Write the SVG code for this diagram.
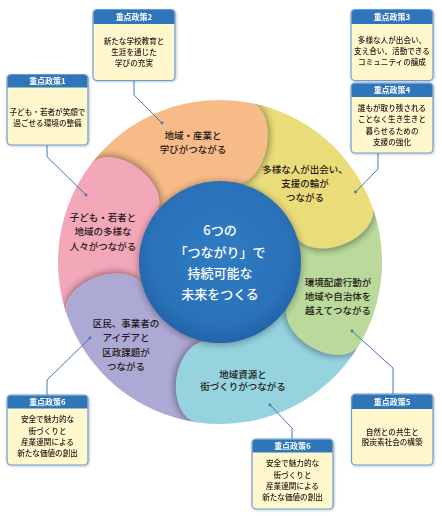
<svg xmlns="http://www.w3.org/2000/svg" width="442" height="516" viewBox="0 0 442 516">
<style>
.pt{font-family:"Noto Sans CJK JP","Noto Sans",sans-serif;font-size:9.5px;font-weight:500;fill:#231815;text-anchor:middle}
.ct{font-family:"Noto Sans CJK JP","Noto Sans",sans-serif;font-size:13px;font-weight:500;fill:#ffffff;text-anchor:middle}
.bh{font-family:"Noto Sans CJK JP","Noto Sans",sans-serif;font-size:8px;font-weight:bold;fill:#ffffff;text-anchor:middle}
.bt{font-family:"Noto Sans CJK JP","Noto Sans",sans-serif;font-size:7.6px;font-weight:500;fill:#231815;text-anchor:middle}
.body{fill:#fff8cd;stroke:#6b9bd6;stroke-width:1.2}
.head{fill:#2e74b9}
.conn{fill:none;stroke:#3e77bd;stroke-width:1}
.dot{fill:#3e77bd}
.sh{fill:#000;opacity:.38}
</style>
<defs>
<filter id="blur" x="-50%" y="-50%" width="200%" height="200%"><feGaussianBlur stdDeviation="3.5"/></filter>
<filter id="bshadow" x="-20%" y="-20%" width="140%" height="140%"><feDropShadow dx="0.8" dy="0.8" stdDeviation="0.8" flood-color="#000" flood-opacity="0.25"/></filter>
<radialGradient id="blueg" cx="50%" cy="45%" r="55%">
<stop offset="0" stop-color="#2f7cc3"/>
<stop offset="0.8" stop-color="#2a71b8"/>
<stop offset="1" stop-color="#2163a8"/>
</radialGradient>
<clipPath id="c-orange"><path d="M 90.63 164.51 A 162 162 0 0 1 250.91 102.98 A 41 24 -79 0 1 235.26 183.47 A 80 80 0 0 0 156.11 213.86 A 41 26 217 0 0 90.63 164.51 Z"/></clipPath>
<clipPath id="c-yellow"><path d="M 250.91 102.98 A 162 162 0 0 1 372.23 206.60 A 41 26 -20 0 1 295.18 234.64 A 80 80 0 0 0 235.26 183.47 A 41 24 -79 0 0 250.91 102.98 Z"/></clipPath>
<clipPath id="c-green"><path d="M 372.23 206.60 A 162 162 0 0 1 358.87 345.43 A 41 26 31 0 1 288.58 303.20 A 80 80 0 0 0 295.18 234.64 A 41 26 -20 0 0 372.23 206.60 Z"/></clipPath>
<clipPath id="c-cyan"><path d="M 358.87 345.43 A 162 162 0 0 1 197.45 422.43 A 41 27 98 0 1 208.86 341.22 A 80 80 0 0 0 288.58 303.20 A 41 26 31 0 0 358.87 345.43 Z"/></clipPath>
<clipPath id="c-purple"><path d="M 197.45 422.43 A 162 162 0 0 1 66.83 314.75 A 41 26 161 0 1 144.36 288.05 A 80 80 0 0 0 208.86 341.22 A 41 27 98 0 0 197.45 422.43 Z"/></clipPath>
<clipPath id="c-pink"><path d="M 66.83 314.75 A 162 162 0 0 1 90.63 164.51 A 41 26 217 0 1 156.11 213.86 A 80 80 0 0 0 144.36 288.05 A 41 26 161 0 0 66.83 314.75 Z"/></clipPath>
</defs>

<rect width="442" height="516" fill="#ffffff"/>

<g id="petal-orange">
<path fill="#f7bb87" d="M 90.63 164.51 A 162 162 0 0 1 250.91 102.98 A 41 24 -79 0 1 235.26 183.47 A 80 80 0 0 0 156.11 213.86 A 41 26 217 0 0 90.63 164.51 Z"/>
</g>
<g id="petal-yellow">
<path fill="#ebdc7a" d="M 250.91 102.98 A 162 162 0 0 1 372.23 206.60 A 41 26 -20 0 1 295.18 234.64 A 80 80 0 0 0 235.26 183.47 A 41 24 -79 0 0 250.91 102.98 Z"/>
</g>
<g id="petal-green">
<path fill="#bad99b" d="M 372.23 206.60 A 162 162 0 0 1 358.87 345.43 A 41 26 31 0 1 288.58 303.20 A 80 80 0 0 0 295.18 234.64 A 41 26 -20 0 0 372.23 206.60 Z"/>
</g>
<g id="petal-cyan">
<path fill="#95d4df" d="M 358.87 345.43 A 162 162 0 0 1 197.45 422.43 A 41 27 98 0 1 208.86 341.22 A 80 80 0 0 0 288.58 303.20 A 41 26 31 0 0 358.87 345.43 Z"/>
</g>
<g id="petal-purple">
<path fill="#ada9d5" d="M 197.45 422.43 A 162 162 0 0 1 66.83 314.75 A 41 26 161 0 1 144.36 288.05 A 80 80 0 0 0 208.86 341.22 A 41 27 98 0 0 197.45 422.43 Z"/>
</g>
<g id="petal-pink">
<path fill="#f3a8ba" d="M 66.83 314.75 A 162 162 0 0 1 90.63 164.51 A 41 26 217 0 1 156.11 213.86 A 80 80 0 0 0 144.36 288.05 A 41 26 161 0 0 66.83 314.75 Z"/>
</g>

<g id="cap-shadows">
<g clip-path="url(#c-yellow)"><ellipse class="sh" filter="url(#blur)" cx="243.09" cy="143.23" rx="42" ry="26" transform="rotate(-79 243.09 143.23)"/></g>
<g clip-path="url(#c-green)"><ellipse class="sh" filter="url(#blur)" cx="333.70" cy="220.62" rx="42" ry="28" transform="rotate(-20 333.70 220.62)"/></g>
<g clip-path="url(#c-cyan)"><ellipse class="sh" filter="url(#blur)" cx="323.72" cy="324.32" rx="42" ry="28" transform="rotate(31 323.72 324.32)"/></g>
<g clip-path="url(#c-purple)"><ellipse class="sh" filter="url(#blur)" cx="203.16" cy="381.83" rx="42" ry="29" transform="rotate(98 203.16 381.83)"/></g>
<g clip-path="url(#c-pink)"><ellipse class="sh" filter="url(#blur)" cx="105.59" cy="301.40" rx="42" ry="28" transform="rotate(161 105.59 301.40)"/></g>
<g clip-path="url(#c-orange)"><ellipse class="sh" filter="url(#blur)" cx="123.37" cy="189.18" rx="42" ry="28" transform="rotate(217 123.37 189.18)"/></g>
</g>

<g id="petal-labels">
<text class="pt" x="193" y="138.6">地域・産業と</text>
<text class="pt" x="193" y="152.9">学びがつながる</text>
<text class="pt" x="305" y="172.9">多様な人が出会い、</text>
<text class="pt" x="305" y="186.9">支援の輪が</text>
<text class="pt" x="305" y="200.9">つながる</text>
<text class="pt" x="338" y="286.3">環境配慮行動が</text>
<text class="pt" x="338" y="300.3">地域や自治体を</text>
<text class="pt" x="338" y="314.3">越えてつながる</text>
<text class="pt" x="243" y="377.6">地域資源と</text>
<text class="pt" x="243" y="390.3">街づくりがつながる</text>
<text class="pt" x="126" y="326.9">区民、事業者の</text>
<text class="pt" x="126" y="341.4">アイデアと</text>
<text class="pt" x="126" y="355.9">区政課題が</text>
<text class="pt" x="126" y="370.4">つながる</text>
<text class="pt" x="103" y="220.9">子ども・若者と</text>
<text class="pt" x="103" y="235.3">地域の多様な</text>
<text class="pt" x="103" y="249.6">人々がつながる</text>
</g>

<g id="center">
<circle cx="220" cy="263" r="82" fill="#000" opacity="0.3" filter="url(#blur)"/>
<circle cx="220" cy="262" r="81" fill="url(#blueg)"/>
<text class="ct" x="220" y="235">6つの</text>
<text class="ct" x="220" y="256.5">「つながり」で</text>
<text class="ct" x="220" y="277.5">持続可能な</text>
<text class="ct" x="220" y="298.5">未来をつくる</text>
</g>

<g id="connectors">
<polyline class="conn" points="47,145 47,156.7 86,195"/><circle class="dot" cx="86" cy="195" r="1.4"/>
<polyline class="conn" points="134,81 134,95 162,123"/><circle class="dot" cx="162" cy="123" r="1.4"/>
<polyline class="conn" points="378,153 378,169 355.5,192"/><circle class="dot" cx="355.5" cy="192" r="1.4"/>
<polyline class="conn" points="393,394 393,368 352,331"/><circle class="dot" cx="352" cy="331" r="1.4"/>
<polyline class="conn" points="47,395 47,380 90,338"/><circle class="dot" cx="90" cy="338" r="1.4"/>
<polyline class="conn" points="292,439 292,428 270,405"/><circle class="dot" cx="270" cy="405" r="1.4"/>
</g>

<g id="policy1" filter="url(#bshadow)">
<rect class="body" x="7" y="74.5" width="81" height="70.5" rx="4"/>
<path class="head" d="M7.6 87.5 V78.5 Q7.6 75.1 11 75.1 H84 Q87.4 75.1 87.4 78.5 V87.5 Z"/>
<text class="bh" x="47.5" y="84">重点政策1</text>
<text class="bt" x="47.5" y="115.4">子ども・若者が笑顔で</text>
<text class="bt" x="47.5" y="125.9">過ごせる環境の整備</text>
</g>

<g id="policy2" filter="url(#bshadow)">
<rect class="body" x="93" y="9.5" width="82" height="71" rx="4"/>
<path class="head" d="M93.6 24 V13.5 Q93.6 10.1 97 10.1 H171 Q174.4 10.1 174.4 13.5 V24 Z"/>
<text class="bh" x="134" y="20">重点政策2</text>
<text class="bt" x="134" y="43.6">新たな学校教育と</text>
<text class="bt" x="134" y="54.6">生涯を通じた</text>
<text class="bt" x="134" y="65.6">学びの充実</text>
</g>

<g id="policy3" filter="url(#bshadow)">
<rect class="body" x="351" y="9.5" width="82" height="71" rx="4"/>
<path class="head" d="M351.6 24 V13.5 Q351.6 10.1 355 10.1 H429 Q432.4 10.1 432.4 13.5 V24 Z"/>
<text class="bh" x="392" y="20">重点政策3</text>
<text class="bt" x="392" y="42.9">多様な人が出会い、</text>
<text class="bt" x="392" y="53.9">支え合い、活動できる</text>
<text class="bt" x="392" y="64.9">コミュニティの醸成</text>
</g>

<g id="policy4" filter="url(#bshadow)">
<rect class="body" x="351" y="83" width="82" height="70" rx="4"/>
<path class="head" d="M351.6 97 V87 Q351.6 83.6 355 83.6 H429 Q432.4 83.6 432.4 87 V97 Z"/>
<text class="bh" x="392" y="93.2">重点政策4</text>
<text class="bt" x="392" y="110.9">誰もが取り残される</text>
<text class="bt" x="392" y="122.2">ことなく生き生きと</text>
<text class="bt" x="392" y="133.6">暮らせるための</text>
<text class="bt" x="392" y="144.9">支援の強化</text>
</g>

<g id="policy5" filter="url(#bshadow)">
<rect class="body" x="351.5" y="394" width="81.5" height="71" rx="4"/>
<path class="head" d="M352.1 409 V398 Q352.1 394.6 355.5 394.6 H429 Q432.4 394.6 432.4 398 V409 Z"/>
<text class="bh" x="392.2" y="404.7">重点政策5</text>
<text class="bt" x="392.2" y="434.6">自然との共生と</text>
<text class="bt" x="392.2" y="445.2">脱炭素社会の構築</text>
</g>

<g id="policy6-left" filter="url(#bshadow)">
<rect class="body" x="7" y="395" width="81" height="70" rx="4"/>
<path class="head" d="M7.6 408.5 V399 Q7.6 395.6 11 395.6 H84 Q87.4 395.6 87.4 399 V408.5 Z"/>
<text class="bh" x="47.5" y="405">重点政策6</text>
<text class="bt" x="47.5" y="422.2">安全で魅力的な</text>
<text class="bt" x="47.5" y="433.8">街づくりと</text>
<text class="bt" x="47.5" y="444.9">産業連関による</text>
<text class="bt" x="47.5" y="456.2">新たな価値の創出</text>
</g>

<g id="policy6-bottom" filter="url(#bshadow)">
<rect class="body" x="252" y="439" width="81" height="70" rx="4"/>
<path class="head" d="M252.6 452.5 V443 Q252.6 439.6 256 439.6 H329 Q332.4 439.6 332.4 443 V452.5 Z"/>
<text class="bh" x="292.5" y="449">重点政策6</text>
<text class="bt" x="292.5" y="466.2">安全で魅力的な</text>
<text class="bt" x="292.5" y="477.8">街づくりと</text>
<text class="bt" x="292.5" y="488.9">産業連関による</text>
<text class="bt" x="292.5" y="500.2">新たな価値の創出</text>
</g>
</svg>
